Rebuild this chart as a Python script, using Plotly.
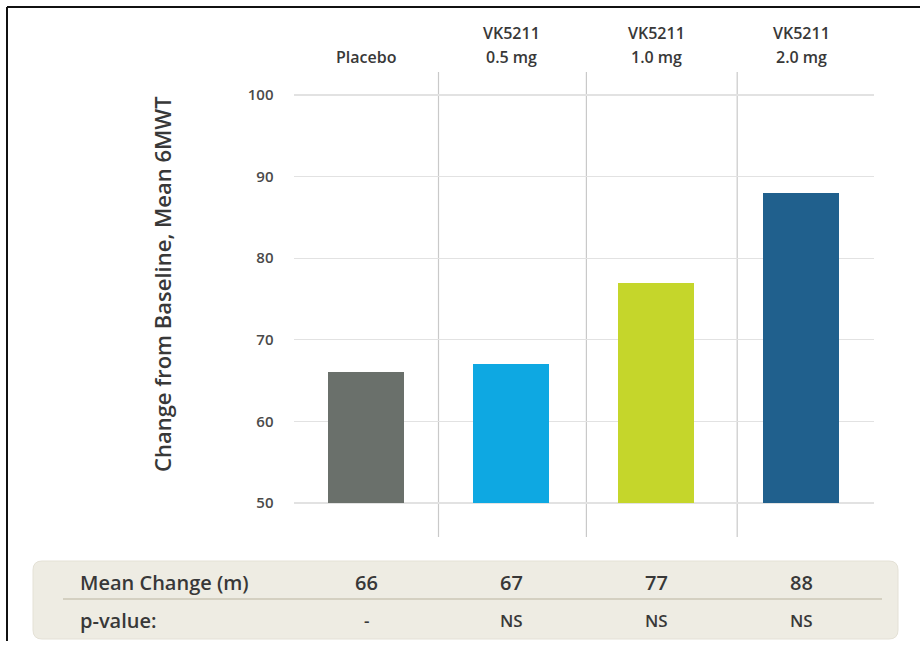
import plotly.graph_objects as go

categories = ["Placebo", "VK5211 0.5 mg", "VK5211 1.0 mg", "VK5211 2.0 mg"]
header_line1 = ["", "VK5211", "VK5211", "VK5211"]
header_line2 = ["Placebo", "0.5 mg", "1.0 mg", "2.0 mg"]
mean_change = [66, 67, 77, 88]
mean_change_labels = ["66", "67", "77", "88"]
p_values = ["-", "NS", "NS", "NS"]
bar_colors = ["#6a706b", "#0ea8e2", "#c5d62b", "#20608d"]
y_ticks = [50, 60, 70, 80, 90, 100]
y_title = "Change from Baseline, Mean 6MWT"
row_labels = ["Mean Change (m)", "p-value:"]

W, H = 920, 649
FONT = "Open Sans"
TXT = "#383838"

def px_x(p):
    return p / W

def px_y(p):
    return 1 - p / H

base = 50
fig = go.Figure()
fig.add_trace(go.Bar(
    x=list(range(len(categories))),
    y=[v - base for v in mean_change],
    base=base,
    marker=dict(color=bar_colors, line=dict(width=0)),
    width=0.53,
    hoverinfo="skip",
    showlegend=False,
))

# y axis mapping: 50 -> 503px, 100 -> 95px
ppu = (503 - 95) / 50.0
y_top_px, y_bot_px = 72, 537
y_max = 100 + (95 - y_top_px) / ppu
y_min = 50 - (y_bot_px - 503) / ppu

shapes = []
for sx in [0.5, 1.52, 2.56]:
    shapes.append(dict(type="line", xref="x", yref="paper", x0=sx, x1=sx,
                       y0=px_y(y_bot_px), y1=px_y(y_top_px),
                       line=dict(color="#c9c9c9", width=1.2), layer="below"))

x0, x1, yt, yb, r = 33, 898, 561, 639, 9
path = (f"M {px_x(x0 + r)} {px_y(yt)} L {px_x(x1 - r)} {px_y(yt)} "
        f"Q {px_x(x1)} {px_y(yt)} {px_x(x1)} {px_y(yt + r)} "
        f"L {px_x(x1)} {px_y(yb - r)} Q {px_x(x1)} {px_y(yb)} {px_x(x1 - r)} {px_y(yb)} "
        f"L {px_x(x0 + r)} {px_y(yb)} Q {px_x(x0)} {px_y(yb)} {px_x(x0)} {px_y(yb - r)} "
        f"L {px_x(x0)} {px_y(yt + r)} Q {px_x(x0)} {px_y(yt)} {px_x(x0 + r)} {px_y(yt)} Z")
shapes.append(dict(type="path", xref="paper", yref="paper", path=path,
                   fillcolor="#eeece3", line=dict(color="#e4e1d6", width=1), layer="below"))
shapes.append(dict(type="line", xref="paper", yref="paper",
                   x0=px_x(63), x1=px_x(882), y0=px_y(599), y1=px_y(599),
                   line=dict(color="#cbc7b6", width=1.5)))
shapes.append(dict(type="line", xref="paper", yref="paper",
                   x0=px_x(7), x1=px_x(7), y0=px_y(7), y1=px_y(641),
                   line=dict(color="#111111", width=2)))
shapes.append(dict(type="line", xref="paper", yref="paper",
                   x0=px_x(7), x1=1, y0=px_y(7), y1=px_y(7),
                   line=dict(color="#111111", width=2)))

hdr_font = dict(family=FONT, size=16, color=TXT, weight=600)
annotations = []

def ann(x, xref, y, text, font, xanchor="center", **kw):
    annotations.append(dict(x=x, xref=xref, y=y, yref="paper", text=text,
                            xanchor=xanchor, yanchor="middle", showarrow=False,
                            font=font, **kw))

for i in range(len(categories)):
    if header_line1[i]:
        ann(i, "x", px_y(33), header_line1[i], hdr_font)
    ann(i, "x", px_y(57), header_line2[i], hdr_font)
    ann(i, "x", px_y(582), mean_change_labels[i],
        dict(family=FONT, size=20, color=TXT, weight=600))
    ann(i, "x", px_y(620), p_values[i],
        dict(family=FONT, size=17, color=TXT, weight=600))

for lbl, yy in zip(row_labels, [582, 620]):
    ann(px_x(78), "paper", px_y(yy), lbl,
        dict(family=FONT, size=20, color=TXT, weight=600), xanchor="left")
ann(px_x(162), "paper", px_y(284), y_title,
    dict(family=FONT, size=22, color=TXT, weight=600), textangle=-90)

fig.update_layout(
    width=W, height=H,
    margin=dict(l=0, r=0, t=0, b=0),
    paper_bgcolor="white", plot_bgcolor="white",
    shapes=shapes, annotations=annotations,
    bargap=0,
    xaxis=dict(domain=[px_x(293.5), px_x(873.5)], range=[-0.5, 3.5], showticklabels=False,
               showgrid=False, zeroline=False, showline=False, fixedrange=True),
    yaxis=dict(domain=[px_y(y_bot_px), px_y(y_top_px)], range=[y_min, y_max],
               tickvals=y_ticks, ticktext=[str(t) for t in y_ticks],
               showgrid=True, gridcolor="#e2e2e2", gridwidth=1.2,
               zeroline=False, showline=False, fixedrange=True,
               ticks="outside", ticklen=16, tickcolor="rgba(0,0,0,0)",
               tickfont=dict(family=FONT, size=15, color="#4a4a4a", weight=600)),
)

fig.write_html("out.html",
               config={"displayModeBar": False, "staticPlot": True},
               post_script="document.body.style.margin='0px';document.body.style.overflow='hidden';")
